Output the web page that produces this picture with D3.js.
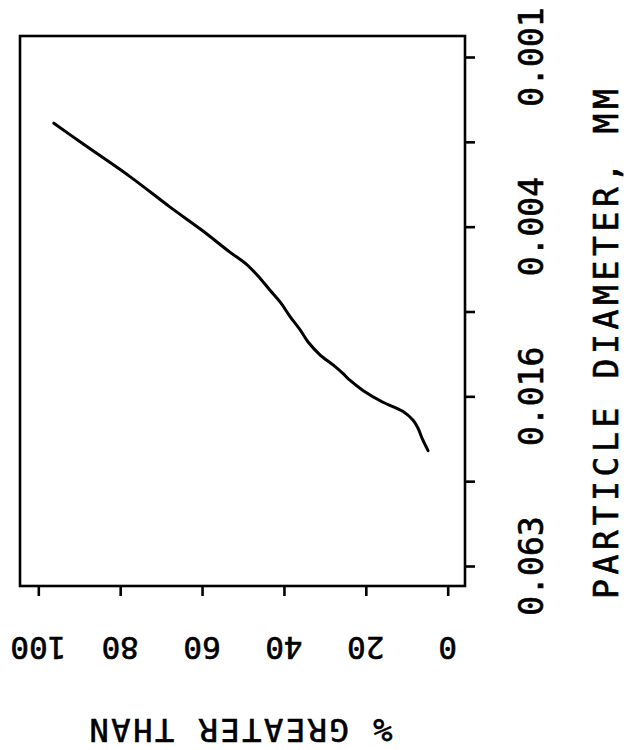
<!DOCTYPE html>
<html>
<head>
<meta charset="utf-8">
<script src="https://cdn.jsdelivr.net/npm/d3@7/dist/d3.min.js"></script>
<style>
  html, body { margin: 0; padding: 0; background: #fff; }
  svg { display: block; }
  text { font-family: "DejaVu Sans Mono", "Liberation Mono", monospace; fill: #000; stroke: #000; stroke-width: 0.6px; }
</style>
</head>
<body>
<svg id="chart" width="627" height="750"></svg>
<script>
// ---- data ----
const percentGreater = [96.2, 89.8, 77.6, 67.8, 60.1, 53.2, 49.0, 45.8, 43.4, 40.9, 38.5, 36.0, 34.1, 31.2, 28.0, 25.6, 23.9, 20.7, 15.8, 10.9, 8.5, 7.3, 6.3, 4.8];
const diameterMM = [0.001677, 0.001953, 0.002595, 0.003330, 0.004016, 0.004809, 0.005336, 0.005962, 0.006570, 0.007239, 0.008145, 0.009099, 0.010027, 0.011126, 0.012091, 0.012958, 0.013697, 0.014885, 0.016402, 0.017701, 0.018972, 0.020194, 0.021945, 0.024348];
const percentTicks = [100, 80, 60, 40, 20, 0];
const diameterTicks = [0.0009765625, 0.001953125, 0.00390625, 0.0078125, 0.015625, 0.03125, 0.0625];
const diameterTickLabels = ["0.001", "", "0.004", "", "0.016", "", "0.063"];
const percentTitle = "% GREATER THAN";
const diameterTitle = "PARTICLE DIAMETER,  MM";

// ---- layout ----
const frame = { left: 20, right: 465, top: 36, bottom: 586 };
const svg = d3.select("#chart");

const x = d3.scaleLinear().domain([0, 100]).range([447.7, 38.3]);
const y = d3.scaleLog().base(2).domain([0.0009765625, 0.0625]).range([57, 566]);

// frame
svg.append("rect")
  .attr("x", frame.left).attr("y", frame.top)
  .attr("width", frame.right - frame.left).attr("height", frame.bottom - frame.top)
  .attr("fill", "none").attr("stroke", "#000").attr("stroke-width", 2.6);

// bottom axis (ticks)
const gx = svg.append("g").attr("transform", `translate(0,${frame.bottom})`)
  .call(d3.axisBottom(x).tickValues(percentTicks).tickSize(10).tickSizeOuter(0).tickFormat(""));
gx.select(".domain").remove();
gx.selectAll(".tick line").attr("stroke", "#000").attr("stroke-width", 2.6);

// bottom tick labels (upside down)
svg.append("g").selectAll("text").data(percentTicks).join("text")
  .attr("transform", d => `translate(${x(d)},637) rotate(180)`)
  .attr("text-anchor", "middle")
  .style("font-size", "31px")
  .text(d => d);

// right axis (ticks)
const gy = svg.append("g").attr("transform", `translate(${frame.right},0)`)
  .call(d3.axisRight(y).tickValues(diameterTicks).tickSize(10).tickSizeOuter(0).tickFormat(""));
gy.select(".domain").remove();
gy.selectAll(".tick line").attr("stroke", "#000").attr("stroke-width", 2.6);

// right tick labels (rotated -90)
svg.append("g").selectAll("text").data(diameterTicks).join("text")
  .attr("transform", d => `translate(543,${y(d)}) rotate(-90)`)
  .attr("text-anchor", "middle")
  .style("font-size", "33px")
  .text((d, i) => diameterTickLabels[i]);

// titles
svg.append("text")
  .attr("transform", "translate(241,719) rotate(180)")
  .attr("text-anchor", "middle")
  .attr("textLength", 303).attr("lengthAdjust", "spacing")
  .style("font-size", "32px")
  .text(percentTitle);

svg.append("text")
  .attr("transform", "translate(618,344) rotate(-90)")
  .attr("text-anchor", "middle")
  .attr("textLength", 510).attr("lengthAdjust", "spacing")
  .style("font-size", "33px")
  .text(diameterTitle);

// curve
const pts = percentGreater.map((p, i) => [p, diameterMM[i]]);
svg.append("path")
  .datum(pts)
  .attr("fill", "none").attr("stroke", "#000").attr("stroke-width", 3)
  .attr("stroke-linecap", "round").attr("stroke-linejoin", "round")
  .attr("d", d3.line().x(d => x(d[0])).y(d => y(d[1])).curve(d3.curveCatmullRom));
</script>
</body>
</html>
